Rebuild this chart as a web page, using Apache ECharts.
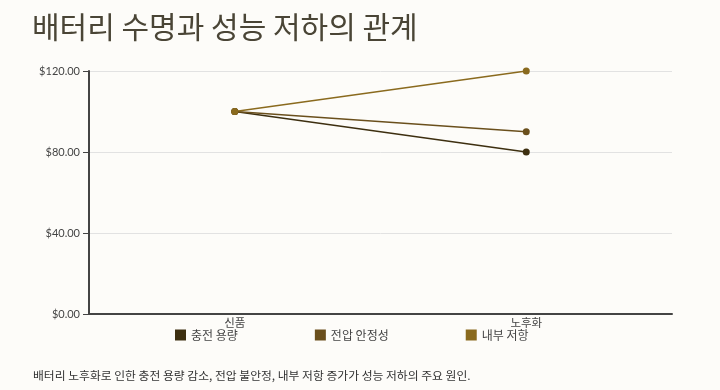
<!DOCTYPE html>
<html><head><meta charset="utf-8">
<script src="https://cdn.jsdelivr.net/npm/echarts@6/dist/echarts.min.js"></script>
<style>html,body{margin:0;padding:0;background:#fdfcf9;}#c{width:720px;height:390px;}</style>
</head><body><div id="c"></div>
<script>
const categories = ['신품', '노후화'];
const seriesNames = ['충전 용량', '전압 안정성', '내부 저항'];
const chargeCapacity = [100, 80];
const voltageStability = [100, 90];
const internalResistance = [100, 120];
const colors = ['#3d2f10', '#6a4f1c', '#8a6a1e'];
const titleText = '배터리 수명과 성능 저하의 관계';
const footText = '배터리 노후화로 인한 충전 용량 감소, 전압 불안정, 내부 저항 증가가 성능 저하의 주요 원인.';
const font = '"Noto Sans CJK KR", "Noto Sans", sans-serif';

const values = [chargeCapacity, voltageStability, internalResistance];
const chart = echarts.init(document.getElementById('c'));
chart.setOption({
  backgroundColor: '#fdfcf9',
  animation: false,
  color: colors,
  title: [{
    text: titleText, left: 27, top: 7,
    textStyle: { fontFamily: font, fontSize: 30, fontWeight: 'normal', color: '#4a4536' }
  }, {
    text: footText, left: 28, top: 365,
    textStyle: { fontFamily: font, fontSize: 11.8, fontWeight: 'normal', color: '#333' }
  }],
  legend: {
    left: 170, top: 324, itemWidth: 11, itemHeight: 11, itemGap: 77, icon: 'rect',
    textStyle: { fontFamily: font, fontSize: 12, color: '#444' },
    data: seriesNames
  },
  grid: { left: 89, right: 48, top: 71, bottom: 76 },
  xAxis: {
    type: 'category', data: categories,
    axisLine: { lineStyle: { color: '#444', width: 2 } },
    axisTick: { alignWithLabel: true, length: 5, lineStyle: { color: '#444' } },
    axisLabel: { fontFamily: font, fontSize: 11.5, color: '#444', margin: 3 }
  },
  yAxis: {
    type: 'value', min: 0, max: 120, interval: 40,
    axisLine: { show: true, lineStyle: { color: '#444', width: 2 } },
    axisTick: { show: true, length: 6, lineStyle: { color: '#444' } },
    axisLabel: { fontFamily: 'Lato, sans-serif', fontSize: 11, color: '#444', margin: 9,
      formatter: v => '$' + v.toFixed(2) },
    splitLine: { lineStyle: { color: '#e2e2e2' } }
  },
  series: seriesNames.map((n, i) => ({
    name: n, type: 'line', data: values[i], symbol: 'circle', symbolSize: 7,
    lineStyle: { width: 1.5, color: colors[i] }, itemStyle: { color: colors[i] }
  }))
});
</script></body></html>
